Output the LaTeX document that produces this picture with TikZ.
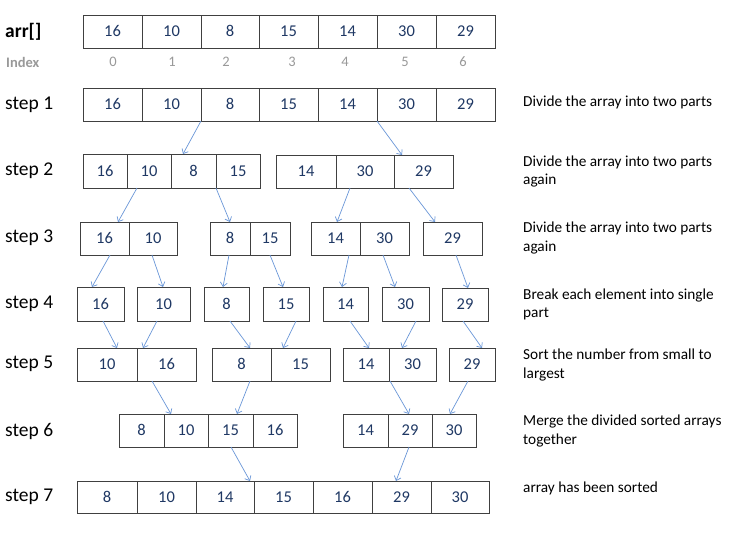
\documentclass[tikz,border=0pt]{standalone}
\usepackage{fontspec}
\setmainfont{Carlito}
\usetikzlibrary{arrows.meta}
\definecolor{numc}{HTML}{1F3864}
\definecolor{boxc}{HTML}{404040}
\definecolor{linkc}{HTML}{6A97D8}
\definecolor{idxc}{HTML}{999999}
\newcommand\mkcell[6]{\node[cell, anchor=north west, minimum width={#3-#2}, minimum height={#5-#4}] (#1) at (#2,-#4) {#6};}
\begin{document}
\begin{tikzpicture}[x=1pt,y=1pt,
  cell/.style={draw=boxc, line width=0.9pt, inner sep=0pt, outer sep=0pt, text=numc, text height=10.4pt, text depth=0pt, font=\fontsize{16.5}{19}\selectfont},
  steplbl/.style={anchor=west, inner sep=0pt, font=\fontsize{19.5}{22}\selectfont},
  idx/.style={inner sep=0pt, text=idxc, text height=9.2pt, text depth=0pt, font=\fontsize{14.5}{16}\selectfont},
  note/.style={anchor=west, inner sep=0pt, align=left, font=\fontsize{15.3}{18.5}\selectfont},
  link/.style={draw=linkc, line width=0.7pt, -{Straight Barb[length=4pt,width=7pt]}}]
\fill[white] (0,0) rectangle (744,-538);
\useasboundingbox (0,0) rectangle (744,-538);
% labels
\node[steplbl, font=\fontsize{19.5}{22}\selectfont\bfseries] (larr) at (5,-32) {arr[]};
\node[steplbl, text=idxc, font=\fontsize{14.5}{17}\selectfont\bfseries] (lidx) at (6,-62.5) {Index};
\node[steplbl] (l1) at (5,-104.5) {step 1};
\node[steplbl] (l2) at (5,-171) {step 2};
\node[steplbl] (l3) at (5,-238) {step 3};
\node[steplbl] (l4) at (5,-304) {step 4};
\node[steplbl] (l5) at (5,-364) {step 5};
\node[steplbl] (l6) at (5,-431) {step 6};
\node[steplbl] (l7) at (5,-497) {step 7};
% arr
\mkcell{a0}{83}{142}{15}{48}{16}
\mkcell{a1}{142}{201}{15}{48}{10}
\mkcell{a2}{201}{259}{15}{48}{8}
\mkcell{a3}{259}{318}{15}{48}{15}
\mkcell{a4}{318}{377}{15}{48}{14}
\mkcell{a5}{377}{436}{15}{48}{30}
\mkcell{a6}{436}{495}{15}{48}{29}
% index
\node[idx] (i0) at (113,-62) {0};
\node[idx] (i1) at (172,-62) {1};
\node[idx] (i2) at (226,-62) {2};
\node[idx] (i3) at (292,-62) {3};
\node[idx] (i4) at (345,-62) {4};
\node[idx] (i5) at (405,-62) {5};
\node[idx] (i6) at (463,-62) {6};
% step 1
\mkcell{p0}{83}{142}{88}{121}{16}
\mkcell{p1}{142}{201}{88}{121}{10}
\mkcell{p2}{201}{259}{88}{121}{8}
\mkcell{p3}{259}{318}{88}{121}{15}
\mkcell{p4}{318}{377}{88}{121}{14}
\mkcell{p5}{377}{436}{88}{121}{30}
\mkcell{p6}{436}{495}{88}{121}{29}
% step 2
\mkcell{q0}{83}{127}{154}{188}{16}
\mkcell{q1}{127}{171}{154}{188}{10}
\mkcell{q2}{171}{216}{154}{188}{8}
\mkcell{q3}{216}{260}{154}{188}{15}
\mkcell{q4}{276}{336}{155}{188}{14}
\mkcell{q5}{336}{394}{155}{188}{30}
\mkcell{q6}{394}{453}{155}{188}{29}
% step 3
\mkcell{r0}{80}{129}{222}{255}{16}
\mkcell{r1}{129}{177}{222}{255}{10}
\mkcell{r2}{210}{250}{222}{255}{8}
\mkcell{r3}{250}{290}{222}{255}{15}
\mkcell{r4}{311}{360}{222}{255}{14}
\mkcell{r5}{360}{409}{222}{255}{30}
\mkcell{r6}{423}{482}{222}{255}{29}
% step 4
\mkcell{t0}{77}{124}{287}{321}{16}
\mkcell{t1}{137}{190}{287}{321}{10}
\mkcell{t2}{204}{249}{287}{321}{8}
\mkcell{t3}{263}{309}{287}{321}{15}
\mkcell{t4}{323}{368}{287}{321}{14}
\mkcell{t5}{382}{429}{287}{321}{30}
\mkcell{t6}{442}{488}{288}{321}{29}
% step 5
\mkcell{u0}{77}{137}{348}{381}{10}
\mkcell{u1}{137}{196}{348}{381}{16}
\mkcell{u2}{212}{271}{348}{381}{8}
\mkcell{u3}{271}{330}{348}{381}{15}
\mkcell{u4}{343}{389}{348}{381}{14}
\mkcell{u5}{389}{436}{348}{381}{30}
\mkcell{u6}{449}{495}{348}{381}{29}
% step 6
\mkcell{v0}{119}{164}{414}{447}{8}
\mkcell{v1}{164}{208}{414}{447}{10}
\mkcell{v2}{208}{253}{414}{447}{15}
\mkcell{v3}{253}{297}{414}{447}{16}
\mkcell{v4}{343}{388}{414}{447}{14}
\mkcell{v5}{388}{432}{414}{447}{29}
\mkcell{v6}{432}{476}{414}{447}{30}
% step 7
\mkcell{w0}{77}{137}{481}{513}{8}
\mkcell{w1}{137}{196}{481}{513}{10}
\mkcell{w2}{196}{254}{481}{513}{14}
\mkcell{w3}{254}{313}{481}{513}{15}
\mkcell{w4}{313}{372}{481}{513}{16}
\mkcell{w5}{372}{431}{481}{513}{29}
\mkcell{w6}{431}{489}{481}{513}{30}
% arrows
\draw[link] (p1.south east) -- ([xshift=12pt]q2.north west);
\draw[link] (p4.south east) -- ([xshift=8pt]q6.north west);
\draw[link] ([xshift=10pt]q1.south west) -- ([xshift=38pt]r0.north west);
\draw[link] (q2.south east) -- ([xshift=20pt]r2.north west);
\draw[link] ([xshift=14pt]q5.south west) -- ([xshift=26pt]r4.north west);
\draw[link] ([xshift=15pt]q6.south west) -- ([xshift=12pt]r6.north west);
\draw[link] ([xshift=30pt]r0.south west) -- ([xshift=15pt]t0.north west);
\draw[link] ([xshift=23pt]r1.south west) -- ([xshift=26pt]t1.north west);
\draw[link] ([xshift=19pt]r2.south west) -- ([xshift=19pt]t2.north west);
\draw[link] ([xshift=20pt]r3.south west) -- ([xshift=20pt]t3.north west);
\draw[link] ([xshift=38pt]r4.south west) -- ([xshift=19pt]t4.north west);
\draw[link] ([xshift=23pt]r5.south west) -- ([xshift=13pt]t5.north west);
\draw[link] ([xshift=33pt]r6.south west) -- ([xshift=26pt]t6.north west);
\draw[link] ([xshift=26pt]t0.south west) -- ([xshift=40pt]u0.north west);
\draw[link] ([xshift=20pt]t1.south west) -- ([xshift=6pt]u1.north west);
\draw[link] ([xshift=26pt]t2.south west) -- ([xshift=38pt]u2.north west);
\draw[link] ([xshift=33pt]t3.south west) -- ([xshift=12pt]u3.north west);
\draw[link] ([xshift=27pt]t4.south west) -- ([xshift=26pt]u4.north west);
\draw[link] ([xshift=34pt]t5.south west) -- ([xshift=13pt]u5.north west);
\draw[link] ([xshift=21pt]t6.south west) -- ([xshift=33pt]u6.north west);
\draw[link] ([xshift=15pt]u1.south west) -- ([xshift=7pt]v1.north west);
\draw[link] ([xshift=38pt]u2.south west) -- ([xshift=29pt]v2.north west);
\draw[link] ([xshift=1pt]u5.south west) -- ([xshift=21pt]v5.north west);
\draw[link] ([xshift=19pt]u6.south west) -- ([xshift=18pt]v6.north west);
\draw[link] ([xshift=23pt]v2.south west) -- ([xshift=-4pt]w3.north west);
\draw[link] ([xshift=21pt]v5.south west) -- ([xshift=24pt]w5.north west);
% notes
\node[note] (n1) at (523,-102.5) {Divide the array into two parts};
\node[note] (n2) at (523,-171.5) {Divide the array into two parts\\again};
\node[note] (n3) at (523,-238) {Divide the array into two parts\\again};
\node[note] (n4) at (523,-304.5) {Break each element into single\\part};
\node[note] (n5) at (523,-365) {Sort the number from small to\\largest};
\node[note] (n6) at (523,-431) {Merge the divided sorted arrays\\together};
\node[note] (n7) at (523,-488.5) {array has been sorted};
\end{tikzpicture}
\end{document}
